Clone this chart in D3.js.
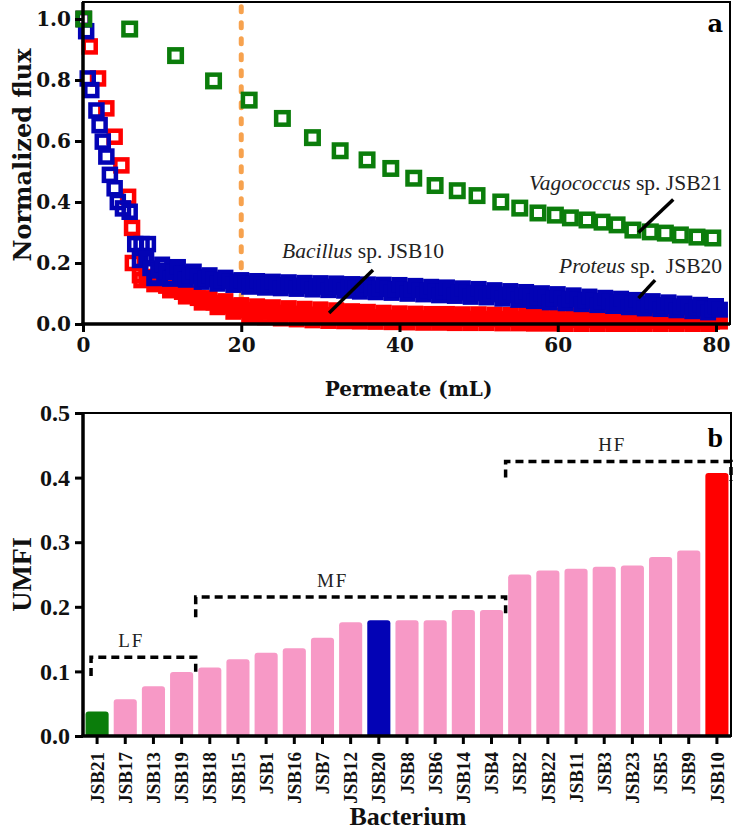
<!DOCTYPE html>
<html>
<head>
<meta charset="utf-8">
<script src="https://cdn.jsdelivr.net/npm/d3@7"></script>
<style>
  body { margin: 0; background: #fff; }
</style>
</head>
<body>
<div id="chart"></div>
<script>
// ---- panel a: normalized flux vs permeate ----
// Vagococcus sp. JSB21 (sparse points)
const vagoPermeate = [0.1, 5.9, 11.7, 16.5, 21.0, 25.2, 29.0, 32.5, 35.9, 38.9, 41.8, 44.5, 47.3, 49.8,
  52.8, 55.2, 57.5, 59.7, 61.6, 63.7, 65.6, 67.5, 69.5, 71.7, 73.6, 75.5, 77.6, 79.6];
const vagoFlux = [1.0, 0.967, 0.88, 0.797, 0.734, 0.674, 0.611, 0.568, 0.538, 0.51, 0.478, 0.454, 0.437, 0.421,
  0.40, 0.38, 0.364, 0.357, 0.348, 0.341, 0.334, 0.325, 0.308, 0.302, 0.298, 0.292, 0.285, 0.282];

// first readings before the curves get dense
const bacillusEarlyPermeate = [0.1, 0.85, 1.9, 2.95, 4.0, 4.85, 5.7, 6.2, 6.3, 7.2, 7.4];
const bacillusEarlyFlux = [1.0, 0.91, 0.805, 0.707, 0.614, 0.52, 0.417, 0.315, 0.2, 0.16, 0.144];
const proteusEarlyPermeate = [0.1, 0.4, 0.6, 1.05, 1.7, 2.1, 2.5, 2.95, 3.4, 4.0, 4.4, 5.05, 5.9, 6.6, 7.4, 8.2, 7.2];
const proteusEarlyFlux = [1.0, 0.96, 0.805, 0.767, 0.70, 0.652, 0.598, 0.549, 0.489, 0.445, 0.40, 0.379, 0.368, 0.262, 0.262, 0.262, 0.21];

// dense readings, one every 0.5 mL from 8 mL to 80.5 mL
const denseStart = 8, denseStep = 0.5;
const bacillusDense = [
  .155, .145, .13, .14, .14, .125, .11, .12, .12, .105, .09, .10, .10, .085, .07, .08, .085, .07, .055, .065,
  .075, .058, .04, .05, .062, .045, .028, .045, .058, .04, .022, .04, .055, .037, .018, .036, .052, .034, .015, .033,
  .05, .031, .012, .03, .048, .029, .01, .028, .045, .027, .009, .026, .042, .025, .008, .024, .04, .023, .007, .022,
  .037, .021, .006, .02, .035, .02, .005, .019, .034, .019, .004, .018, .033, .018, .004, .018, .033, .018, .003, .017,
  .032, .017, .003, .017, .032, .017, .003, .016, .031, .016, .002, .016, .03, .016, .002, .015, .03, .015, .001, .015,
  .029, .015, .001, .014, .028, .014, 0, .014, .027, .013, 0, .013, .026, .013, 0, .012, .025, .012, 0, .012,
  .024, .012, 0, .011, .022, .011, 0, .011, .021, .01, 0, .01, .02, .01, 0, .009, .019, .009, 0, .009,
  .017, .008, 0, .008, .016, .008];
const proteusDense = [
  .215, .183, .15, .175, .195, .172, .148, .17, .187, .166, .145, .16, .172, .155, .138, .15, .16, .146, .132, .142,
  .152, .14, .128, .137, .144, .133, .122, .132, .141, .13, .119, .129, .139, .128, .117, .127, .137, .126, .115, .125,
  .135, .124, .113, .123, .134, .122, .111, .122, .133, .121, .109, .12, .131, .118, .106, .118, .13, .117, .104, .116,
  .129, .115, .102, .114, .128, .113, .099, .112, .125, .111, .097, .109, .122, .108, .094, .106, .12, .106, .092, .104,
  .117, .103, .089, .101, .115, .101, .087, .099, .111, .097, .083, .095, .108, .094, .079, .092, .105, .09, .075, .088,
  .101, .086, .071, .084, .098, .083, .068, .081, .094, .08, .065, .078, .09, .076, .062, .074, .086, .073, .059, .071,
  .083, .069, .055, .067, .079, .065, .051, .063, .075, .062, .049, .06, .071, .058, .045, .056, .067, .055, .042, .053,
  .063, .051, .038, .049, .059, .047];

const permeateTicks = [0, 20, 40, 60, 80];
const fluxTicks = [0, 0.2, 0.4, 0.6, 0.8, 1.0];
const criticalPermeate = 20;

// ---- panel b: UMFI per bacterium ----
const bacteria = ["JSB21", "JSB17", "JSB13", "JSB19", "JSB18", "JSB15", "JSB1", "JSB16", "JSB7", "JSB12", "JSB20", "JSB8",
  "JSB6", "JSB14", "JSB4", "JSB2", "JSB22", "JSB11", "JSB3", "JSB23", "JSB5", "JSB9", "JSB10"];
const umfi = [0.038, 0.057, 0.077, 0.099, 0.106, 0.119, 0.129, 0.136, 0.152, 0.176, 0.179, 0.179,
  0.179, 0.195, 0.195, 0.25, 0.256, 0.259, 0.262, 0.264, 0.277, 0.287, 0.407];
const umfiTicks = [0, 0.1, 0.2, 0.3, 0.4, 0.5];
const foulingGroups = ["LF", "MF", "HF"];
const groupFirst = ["JSB21", "JSB18", "JSB2"];
const groupLast = ["JSB19", "JSB4", "JSB10"];
const groupLevel = [0.122, 0.215, 0.425];
const groupLeftDrop = [0.093, 0.184, 0.40];
const groupRightDrop = [0.098, 0.19, 0.395];

const W = 733, H = 832;
const green = "#0b7d0b", blue = "#0303b5", red = "#ff0000", pink = "#f799c6";
const boldTop = "'DejaVu Serif', serif";
const times = "'Liberation Serif', 'Times New Roman', serif";

const svg = d3.select("#chart").append("svg")
  .attr("width", W).attr("height", H)
  .style("display", "block");

// ================= panel a =================
const a = {left: 83, right: 730, top: 2, bottom: 324};
const x = d3.scaleLinear().domain([0, 81.77]).range([a.left, a.right]);
const y = d3.scaleLinear().domain([0, 1.0557]).range([a.bottom, a.top]);

const gA = svg.append("g");

// orange dashed marker at 20 mL
gA.append("line")
  .attr("x1", x(criticalPermeate)).attr("x2", x(criticalPermeate))
  .attr("y1", y(1.04)).attr("y2", y(0))
  .attr("stroke", "#f7a24e").attr("stroke-width", 5)
  .attr("stroke-dasharray", "5,11").attr("stroke-linecap", "round");

// open squares; dense runs get a heavier stroke so they merge into a band
function squares(g, xs, ys, color, size, sw) {
  g.append("g").selectAll("rect")
    .data(xs.map((v, i) => [v, ys[i]]))
    .enter().append("rect")
    .attr("x", d => x(d[0]) - size / 2)
    .attr("y", d => y(d[1]) - size / 2)
    .attr("width", size).attr("height", size)
    .attr("fill", "none")
    .attr("stroke", color)
    .attr("stroke-width", sw);
}
const denseX = bacillusDense.map((v, i) => denseStart + i * denseStep);

squares(gA, bacillusEarlyPermeate, bacillusEarlyFlux, red, 12, 4.5);
squares(gA, denseX, bacillusDense, red, 10, 6);
squares(gA, proteusEarlyPermeate, proteusEarlyFlux, blue, 12, 4.5);
squares(gA, denseX, proteusDense, blue, 10, 6);
squares(gA, vagoPermeate, vagoFlux, green, 12.5, 4.5);

// frame
gA.append("rect")
  .attr("x", a.left).attr("y", a.top)
  .attr("width", a.right - a.left).attr("height", a.bottom - a.top)
  .attr("fill", "none").attr("stroke", "#000").attr("stroke-width", 2);

const xAxisA = gA.append("g")
  .attr("transform", `translate(0,${a.bottom})`)
  .call(d3.axisBottom(x).tickValues(permeateTicks).tickSize(8).tickPadding(6).tickSizeOuter(0));
const yAxisA = gA.append("g")
  .attr("transform", `translate(${a.left},0)`)
  .call(d3.axisLeft(y).tickValues(fluxTicks).tickFormat(d3.format(".1f")).tickSize(8).tickPadding(4).tickSizeOuter(0));
[xAxisA, yAxisA].forEach(ax => {
  ax.select(".domain").attr("stroke-width", 3.5);
  ax.selectAll(".tick line").attr("stroke-width", 3);
  ax.selectAll("text").attr("font-family", boldTop).attr("font-weight", "bold")
    .attr("font-size", 20).attr("fill", "#111");
});
yAxisA.select(".domain").attr("d", `M0,${a.top}V${a.bottom}`);
xAxisA.select(".domain").attr("d", `M${a.left - 1.5},0H${a.right}`);

gA.append("text")
  .attr("transform", `translate(31,${(a.top + a.bottom) / 2 - 8}) rotate(-90)`)
  .attr("text-anchor", "middle")
  .attr("font-family", boldTop).attr("font-weight", "bold").attr("font-size", 24)
  .attr("fill", "#111")
  .text("Normalized flux");

gA.append("text")
  .attr("x", (a.left + a.right) / 2 + 2).attr("y", 396)
  .attr("text-anchor", "middle")
  .attr("font-family", boldTop).attr("font-weight", "bold").attr("font-size", 20)
  .attr("fill", "#111")
  .text("Permeate (mL)");

gA.append("text")
  .attr("x", 723).attr("y", 32).attr("text-anchor", "end")
  .attr("font-family", boldTop).attr("font-weight", "bold").attr("font-size", 24)
  .text("a");

// species call-outs
const callouts = [
  {genus: "Bacillus", rest: " sp. JSB10", tx: 282, ty: 258, anchor: "start", line: [[36.65, 0.177], [31.1, 0.036]]},
  {genus: "Vagococcus", rest: " sp. JSB21", tx: 722, ty: 190, anchor: "end", line: [[74.6, 0.408], [70.2, 0.3]]},
  {genus: "Proteus", rest: " sp.  JSB20", tx: 722, ty: 273, anchor: "end", line: [[72.3, 0.144], [70.2, 0.085]]}
];
callouts.forEach(c => {
  gA.append("line")
    .attr("x1", x(c.line[0][0])).attr("y1", y(c.line[0][1]))
    .attr("x2", x(c.line[1][0])).attr("y2", y(c.line[1][1]))
    .attr("stroke", "#000").attr("stroke-width", 3.5);
  const t = gA.append("text")
    .attr("x", c.tx).attr("y", c.ty).attr("text-anchor", c.anchor)
    .attr("font-family", times).attr("font-size", 21.5).attr("fill", "#222")
    .style("white-space", "pre");
  t.append("tspan").attr("font-style", "italic").text(c.genus);
  t.append("tspan").text(c.rest);
});

// ================= panel b =================
const b = {left: 83, right: 731, top: 413, bottom: 736};
const xb = d3.scaleBand().domain(bacteria).range([b.left, b.right])
  .paddingInner(0.18).paddingOuter(0.09);
const yb = d3.scaleLinear().domain([0, 0.5]).range([b.bottom, b.top]);
const gB = svg.append("g");

const barColor = name => name === "JSB21" ? green : name === "JSB20" ? blue : name === "JSB10" ? red : pink;
const r = 3;
gB.selectAll("path.bar")
  .data(bacteria.map((n, i) => ({name: n, value: umfi[i]})))
  .enter().append("path")
  .attr("class", "bar")
  .attr("fill", d => barColor(d.name))
  .attr("d", d => {
    const x0 = xb(d.name), w = xb.bandwidth(), y0 = yb(d.value), yB = yb(0);
    return `M${x0},${yB}V${y0 + r}Q${x0},${y0} ${x0 + r},${y0}H${x0 + w - r}Q${x0 + w},${y0} ${x0 + w},${y0 + r}V${yB}Z`;
  });

// fouling group brackets
const gapHalf = (xb.step() - xb.bandwidth()) / 2;
foulingGroups.forEach((g, i) => {
  let xl = xb(groupFirst[i]) - gapHalf;
  if (i === 0) xl = xb(groupFirst[i]) + 5.5;
  let xr = xb(groupLast[i]) + xb.bandwidth() + gapHalf;
  if (i === 2) xr = b.right;
  gB.append("path")
    .attr("d", `M${xl},${yb(groupLeftDrop[i])}V${yb(groupLevel[i])}H${xr}V${yb(groupRightDrop[i])}`)
    .attr("fill", "none").attr("stroke", "#000").attr("stroke-width", 3.5)
    .attr("stroke-dasharray", "8,5");
  gB.append("text")
    .attr("x", (xl + xr) / 2 + (i === 0 ? -12 : i === 1 ? -18 : -6))
    .attr("y", yb(groupLevel[i]) - 10)
    .attr("text-anchor", "middle")
    .attr("font-family", times).attr("font-size", 19).attr("letter-spacing", 2)
    .attr("fill", "#222")
    .text(g);
});

gB.append("rect")
  .attr("x", b.left).attr("y", b.top)
  .attr("width", b.right - b.left).attr("height", b.bottom - b.top)
  .attr("fill", "none").attr("stroke", "#000").attr("stroke-width", 2);

const xAxisB = gB.append("g")
  .attr("transform", `translate(0,${b.bottom})`)
  .call(d3.axisBottom(xb).tickSize(8).tickPadding(6).tickSizeOuter(0));
xAxisB.selectAll("text")
  .attr("transform", "rotate(-90)")
  .attr("x", -16).attr("y", 0).attr("dy", "0.35em")
  .attr("text-anchor", "end");
const yAxisB = gB.append("g")
  .attr("transform", `translate(${b.left},0)`)
  .call(d3.axisLeft(yb).tickValues(umfiTicks).tickFormat(d3.format(".1f")).tickSize(8).tickPadding(5).tickSizeOuter(0));
[xAxisB, yAxisB].forEach(ax => {
  ax.select(".domain").attr("stroke-width", 3.5);
  ax.selectAll(".tick line").attr("stroke-width", 3);
  ax.selectAll("text").attr("font-family", times).attr("font-weight", "bold").attr("fill", "#111");
});
xAxisB.selectAll("text").attr("font-size", 19);
yAxisB.selectAll("text").attr("font-size", 24);
yAxisB.select(".domain").attr("d", `M0,${b.top}V${b.bottom}`);
xAxisB.select(".domain").attr("d", `M${b.left - 1.5},0H${b.right}`);

gB.append("text")
  .attr("transform", `translate(31,${(b.top + b.bottom) / 2}) rotate(-90)`)
  .attr("text-anchor", "middle")
  .attr("font-family", times).attr("font-weight", "bold").attr("font-size", 28)
  .attr("fill", "#111")
  .text("UMFI");

gB.append("text")
  .attr("x", 408).attr("y", 825)
  .attr("text-anchor", "middle")
  .attr("font-family", times).attr("font-weight", "bold").attr("font-size", 26)
  .attr("fill", "#111")
  .text("Bacterium");

gB.append("text")
  .attr("x", 723).attr("y", 447).attr("text-anchor", "end")
  .attr("font-family", times).attr("font-weight", "bold").attr("font-size", 28)
  .text("b");
</script>
</body>
</html>
